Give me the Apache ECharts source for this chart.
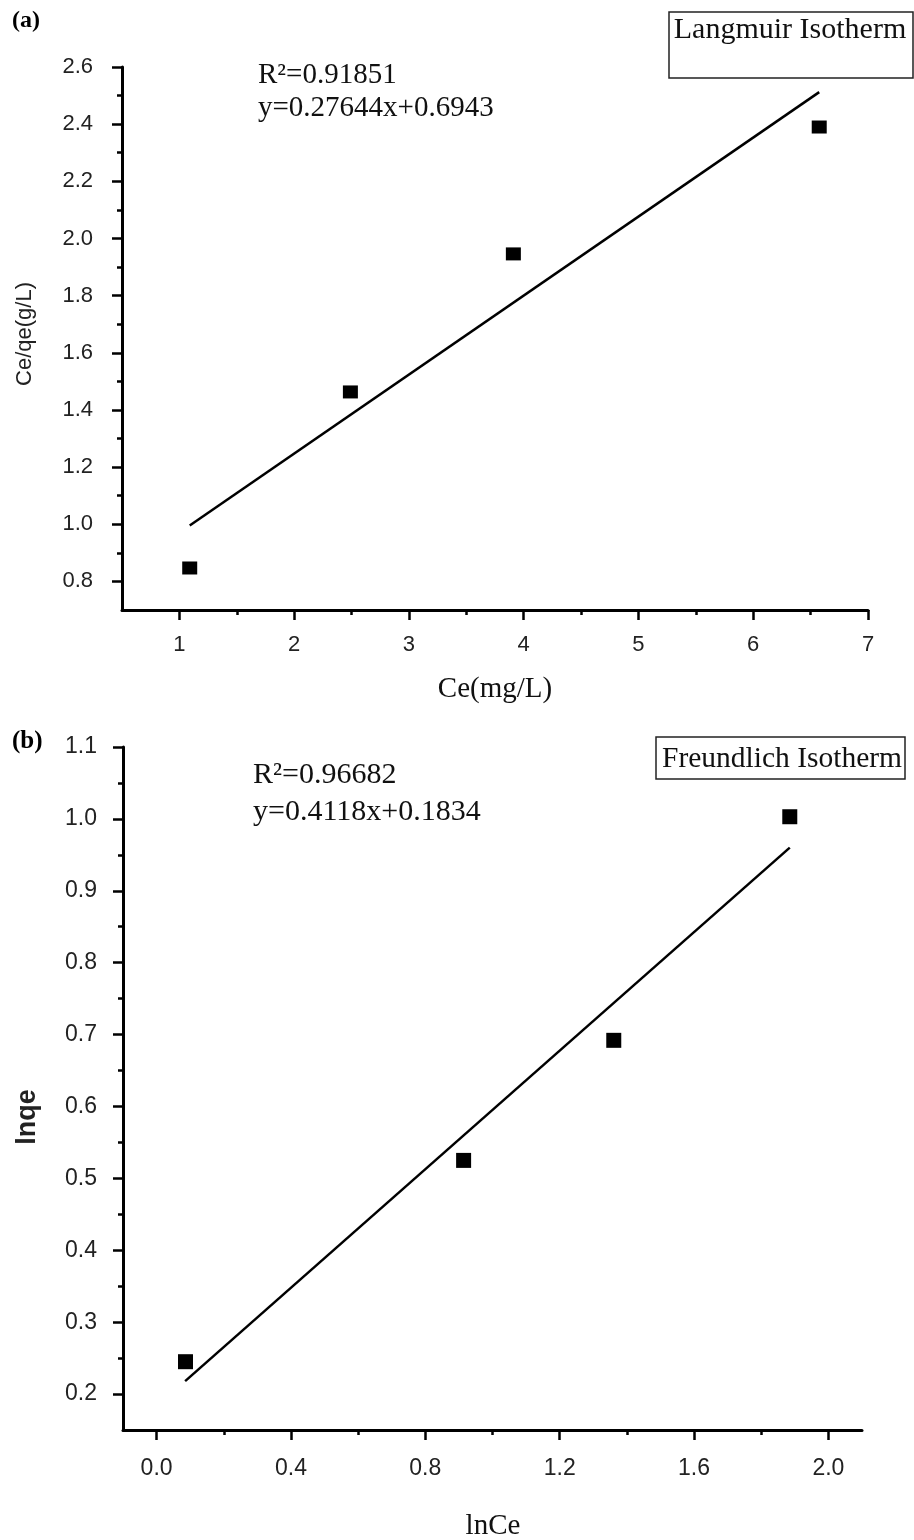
<!DOCTYPE html>
<html>
<head>
<meta charset="utf-8">
<style>
  html, body { margin: 0; padding: 0; background: #fff; }
  #chart { width: 914px; height: 1540px; }
</style>
<script src="https://cdn.jsdelivr.net/npm/echarts@6/dist/echarts.min.js"></script>
</head>
<body>
<div id="chart"></div>
<script>
// ---- Panel (a): Langmuir isotherm ----
const langCe = [1.09, 2.49, 3.91, 6.575];
const langCeQe = [0.847, 1.463, 1.946, 2.39];
const langFitX = [1.09, 6.575];
const langFitY = [0.996, 2.512];
const langXTicks = [1, 2, 3, 4, 5, 6, 7];
const langXMinor = [1.5, 2.5, 3.5, 4.5, 5.5, 6.5];
const langYTicks = [0.8, 1.0, 1.2, 1.4, 1.6, 1.8, 2.0, 2.2, 2.4, 2.6];
const langYMinor = [0.9, 1.1, 1.3, 1.5, 1.7, 1.9, 2.1, 2.3, 2.5];

// ---- Panel (b): Freundlich isotherm ----
const freLnCe = [0.086, 0.914, 1.361, 1.885];
const freLnQe = [0.245, 0.525, 0.692, 1.003];
const freFitX = [0.085, 1.885];
const freFitY = [0.218, 0.960];
const freXTicks = [0.0, 0.4, 0.8, 1.2, 1.6, 2.0];
const freXMinor = [0.2, 0.6, 1.0, 1.4, 1.8];
const freYTicks = [0.2, 0.3, 0.4, 0.5, 0.6, 0.7, 0.8, 0.9, 1.0, 1.1];
const freYMinor = [0.25, 0.35, 0.45, 0.55, 0.65, 0.75, 0.85, 0.95, 1.05];

const zip = (a, b) => a.map((v, i) => [v, b[i]]);
const SANS = "'Liberation Sans', Arial, sans-serif";
const SERIF = "'Liberation Serif', 'Times New Roman', serif";

function mainAxis(gridIndex, min, max, ticks, fmt, fontSize, margin, position) {
  return {
    type: 'value', gridIndex, min, max, position,
    axisLine: { show: true, onZero: false, lineStyle: { color: '#000', width: 3 } },
    axisTick: { show: true, inside: false, length: 10, customValues: ticks,
      lineStyle: { color: '#000', width: 2.5 } },
    axisLabel: { show: true, customValues: ticks, formatter: fmt, margin,
      color: '#222', fontFamily: SANS, fontSize },
    splitLine: { show: false }
  };
}
function minorAxis(gridIndex, min, max, ticks, position) {
  return {
    type: 'value', gridIndex, min, max, position,
    axisLine: { show: false, onZero: false },
    axisTick: { show: true, inside: false, length: 5, customValues: ticks,
      lineStyle: { color: '#000', width: 2.5 } },
    axisLabel: { show: false },
    splitLine: { show: false }
  };
}

const chart = echarts.init(document.getElementById('chart'), null, { renderer: 'canvas' });

const option = {
  animation: false,
  backgroundColor: '#fff',
  grid: [
    { left: 122, top: 67, width: 746, height: 543 },
    { left: 123, top: 747, width: 739, height: 683 }
  ],
  xAxis: [
    mainAxis(0, 0.5, 7, langXTicks, v => String(Math.round(v)), 22, 24, 'bottom'),
    minorAxis(0, 0.5, 7, langXMinor, 'bottom'),
    mainAxis(1, -0.1, 2.1, freXTicks, v => v.toFixed(1), 23, 27, 'bottom'),
    minorAxis(1, -0.1, 2.1, freXMinor, 'bottom')
  ],
  yAxis: [
    mainAxis(0, 0.7, 2.6, langYTicks, v => v.toFixed(1), 22, 29, 'left'),
    minorAxis(0, 0.7, 2.6, langYMinor, 'left'),
    mainAxis(1, 0.15, 1.1, freYTicks, v => v.toFixed(1), 23, 26, 'left'),
    minorAxis(1, 0.15, 1.1, freYMinor, 'left')
  ],
  series: [
    { type: 'line', xAxisIndex: 0, yAxisIndex: 0, data: zip(langFitX, langFitY),
      showSymbol: false, symbol: 'none', lineStyle: { color: '#000', width: 2.5 }, z: 2 },
    { type: 'scatter', xAxisIndex: 0, yAxisIndex: 0, data: zip(langCe, langCeQe),
      symbol: 'rect', symbolSize: [15, 13], itemStyle: { color: '#000', opacity: 1 }, z: 3 },
    { type: 'line', xAxisIndex: 2, yAxisIndex: 2, data: zip(freFitX, freFitY),
      showSymbol: false, symbol: 'none', lineStyle: { color: '#000', width: 2.5 }, z: 2 },
    { type: 'scatter', xAxisIndex: 2, yAxisIndex: 2, data: zip(freLnCe, freLnQe),
      symbol: 'rect', symbolSize: [15, 15], itemStyle: { color: '#000', opacity: 1 }, z: 3 }
  ],
  graphic: [
    // panel labels
    { type: 'text', x: 12, y: 21, style: { text: '(a)', font: 'bold 24px ' + SERIF, fill: '#000',
      textAlign: 'left', textVerticalAlign: 'middle', align: 'left', verticalAlign: 'middle' } },
    { type: 'text', x: 12, y: 742, style: { text: '(b)', font: 'bold 25px ' + SERIF, fill: '#000',
      textAlign: 'left', textVerticalAlign: 'middle', align: 'left', verticalAlign: 'middle' } },
    // annotations (a)
    { type: 'text', x: 258, y: 75, style: { text: 'R²=0.91851', font: '29px ' + SERIF, fill: '#111',
      textAlign: 'left', textVerticalAlign: 'middle', align: 'left', verticalAlign: 'middle' } },
    { type: 'text', x: 258, y: 108, style: { text: 'y=0.27644x+0.6943', font: '29px ' + SERIF, fill: '#111',
      textAlign: 'left', textVerticalAlign: 'middle', align: 'left', verticalAlign: 'middle' } },
    // annotations (b)
    { type: 'text', x: 253, y: 775, style: { text: 'R²=0.96682', font: '30px ' + SERIF, fill: '#111',
      textAlign: 'left', textVerticalAlign: 'middle', align: 'left', verticalAlign: 'middle' } },
    { type: 'text', x: 253, y: 812, style: { text: 'y=0.4118x+0.1834', font: '30px ' + SERIF, fill: '#111',
      textAlign: 'left', textVerticalAlign: 'middle', align: 'left', verticalAlign: 'middle' } },
    // legend boxes
    { type: 'rect', shape: { x: 669, y: 12, width: 244, height: 66 },
      style: { fill: '#fff', stroke: '#222', lineWidth: 1.5 } },
    { type: 'text', x: 790, y: 30, style: { text: 'Langmuir Isotherm', font: '30px ' + SERIF, fill: '#111',
      textAlign: 'center', textVerticalAlign: 'middle', align: 'center', verticalAlign: 'middle' } },
    { type: 'rect', shape: { x: 656, y: 737, width: 249, height: 42 },
      style: { fill: '#fff', stroke: '#222', lineWidth: 1.5 } },
    { type: 'text', x: 782, y: 759, style: { text: 'Freundlich Isotherm', font: '29.5px ' + SERIF, fill: '#111',
      textAlign: 'center', textVerticalAlign: 'middle', align: 'center', verticalAlign: 'middle' } },
    // axis titles (a)
    { type: 'text', x: 495, y: 689, style: { text: 'Ce(mg/L)', font: '29px ' + SERIF, fill: '#111',
      textAlign: 'center', textVerticalAlign: 'middle', align: 'center', verticalAlign: 'middle' } },
    { type: 'text', x: 25, y: 334, rotation: Math.PI / 2, style: { text: 'Ce/qe(g/L)', font: '22px ' + SANS, fill: '#222',
      textAlign: 'center', textVerticalAlign: 'middle', align: 'center', verticalAlign: 'middle' } },
    // axis titles (b)
    { type: 'text', x: 493, y: 1526, style: { text: 'lnCe', font: '29px ' + SERIF, fill: '#111',
      textAlign: 'center', textVerticalAlign: 'middle', align: 'center', verticalAlign: 'middle' } },
    { type: 'text', x: 28, y: 1117, rotation: Math.PI / 2, style: { text: 'lnqe', font: 'bold 27px ' + SANS, fill: '#222',
      textAlign: 'center', textVerticalAlign: 'middle', align: 'center', verticalAlign: 'middle' } }
  ]
};
chart.setOption(option);
</script>
</body>
</html>
